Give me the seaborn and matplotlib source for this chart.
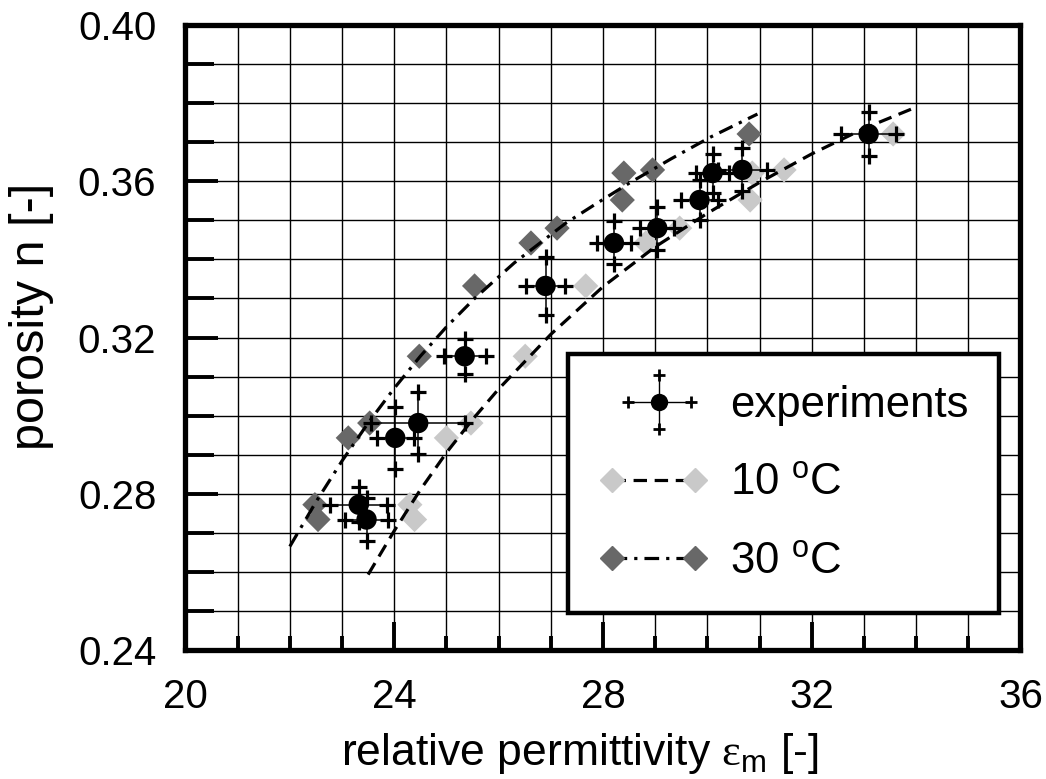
import matplotlib
matplotlib.use("Agg")
import matplotlib.pyplot as plt
from matplotlib.lines import Line2D
from matplotlib.legend_handler import HandlerBase
from matplotlib.ticker import MultipleLocator, FormatStrFormatter
import pandas as pd
import seaborn as sns

# Measured porosity of the twelve samples (shared by all series)
porosity = [0.2734, 0.2772, 0.2943, 0.2981, 0.3152, 0.3332,
            0.3442, 0.3480, 0.3552, 0.3621, 0.3629, 0.3721]

# Experiments: permittivity with uncertainty in both directions
eps_exp = [23.47, 23.32, 24.02, 24.46, 25.35, 26.90,
           28.21, 29.04, 29.85, 30.10, 30.67, 33.09]
eps_err = [0.42, 0.55, 0.35, 0.90, 0.40, 0.38,
           0.32, 0.33, 0.35, 0.32, 0.47, 0.53]
por_err = [0.0055, 0.0045, 0.0080, 0.0080, 0.0045, 0.0075,
           0.0055, 0.0055, 0.0050, 0.0050, 0.0055, 0.0057]

# Model predictions at 10 °C and 30 °C
eps_10 = [24.39, 24.30, 25.00, 25.47, 26.51, 27.67,
          28.82, 29.47, 30.82, 30.86, 31.47, 33.56]
eps_30 = [22.54, 22.48, 23.12, 23.53, 24.48, 25.54,
          26.62, 27.12, 28.37, 28.40, 28.95, 30.80]

# Fitted trend curves
fit10_eps = [23.50, 24.00, 24.50, 25.00, 25.50, 26.00, 27.00, 28.00,
             29.00, 30.00, 31.00, 32.00, 33.00, 33.95]
fit10_por = [0.2593, 0.2705, 0.2810, 0.2905, 0.2990, 0.3068, 0.3208, 0.3330,
             0.3432, 0.3518, 0.3597, 0.3670, 0.3735, 0.3787]
fit30_eps = [22.00, 22.50, 23.00, 23.50, 24.00, 24.50, 25.00, 25.54,
             26.30, 27.29, 27.84, 28.50, 29.30, 30.06, 30.96]
fit30_por = [0.2665, 0.2779, 0.2884, 0.2981, 0.3070, 0.3152, 0.3227, 0.3300,
             0.3391, 0.3493, 0.3540, 0.3595, 0.3657, 0.3713, 0.3772]

x_ticks = [20, 24, 28, 32, 36]
y_ticks = [0.24, 0.28, 0.32, 0.36, 0.40]

LIGHT = "#c9c9c9"
DARK = "#686868"

sns.set_theme(style="white")
plt.rcParams["font.family"] = ["Liberation Sans", "DejaVu Sans"]
plt.rcParams["mathtext.fontset"] = "custom"
plt.rcParams["mathtext.rm"] = "Liberation Sans"
plt.rcParams["mathtext.it"] = "Liberation Sans:italic"
plt.rcParams["mathtext.sf"] = "Liberation Serif"
plt.rcParams["text.color"] = "black"
plt.rcParams["axes.labelcolor"] = "black"
plt.rcParams["xtick.color"] = "black"
plt.rcParams["ytick.color"] = "black"

fig = plt.figure(figsize=(10.46, 7.79), dpi=100)
ax = fig.add_axes([0.1773, 0.1656, 0.7983, 0.8023])

df = pd.DataFrame({"n": porosity, "exp": eps_exp, "dx": eps_err, "dn": por_err,
                   "t10": eps_10, "t30": eps_30})

DASH10 = (0, (4.2, 2.4))
DASHDOT30 = (0, (4.6, 2.2, 1.0, 2.2))

# model points
sns.scatterplot(data=df, x="t10", y="n", marker="D", s=165, color=LIGHT,
                edgecolor="none", linewidth=0, ax=ax, zorder=3, legend=False)
sns.scatterplot(data=df, x="t30", y="n", marker="D", s=165, color=DARK,
                edgecolor="none", linewidth=0, ax=ax, zorder=3, legend=False)

# trend curves
sns.lineplot(x=fit10_eps, y=fit10_por, sort=False, estimator=None, color="black",
             linewidth=2.3, linestyle=DASH10, ax=ax, zorder=4)
sns.lineplot(x=fit30_eps, y=fit30_por, sort=False, estimator=None, color="black",
             linewidth=2.3, linestyle=DASHDOT30, ax=ax, zorder=4)

# experiments with crosses at the ends of their uncertainty bars
ax.errorbar(df["exp"], df["n"], xerr=df["dx"], yerr=df["dn"], fmt="none",
            ecolor="black", elinewidth=1.1, capsize=0, zorder=5)
ends_x = list(df["exp"] - df["dx"]) + list(df["exp"] + df["dx"]) + list(df["exp"]) * 2
ends_y = list(df["n"]) * 2 + list(df["n"] + df["dn"]) + list(df["n"] - df["dn"])
ax.plot(ends_x, ends_y, linestyle="none", marker="+", markersize=11,
        markeredgewidth=2.3, color="black", zorder=5)
sns.scatterplot(data=df, x="exp", y="n", marker="o", s=215, color="black",
                edgecolor="none", linewidth=0, ax=ax, zorder=6, legend=False)

# axes, ticks, grid
ax.set_xlim(20, 36)
ax.set_ylim(0.24, 0.40)
ax.set_xticks(x_ticks)
ax.set_yticks(y_ticks)
ax.xaxis.set_minor_locator(MultipleLocator(1))
ax.yaxis.set_minor_locator(MultipleLocator(0.01))
ax.yaxis.set_major_formatter(FormatStrFormatter("%.2f"))
ax.grid(which="both", color="black", linewidth=1.0)
ax.set_axisbelow(True)
for s in ax.spines.values():
    s.set_visible(True)
    s.set_color("black")
    s.set_linewidth(3.8)
ax.tick_params(axis="x", which="major", direction="in", length=20, width=2.8,
               labelsize=29, pad=20, bottom=True, top=False, color="black",
               labelcolor="black")
ax.tick_params(axis="x", which="minor", direction="in", length=10, width=2.8,
               bottom=True, top=False, color="black")
ax.tick_params(axis="y", which="major", direction="in", length=24, width=2.8,
               labelsize=29, pad=21, left=True, right=False, color="black",
               labelcolor="black")
ax.tick_params(axis="y", which="minor", direction="in", length=21, width=2.8,
               left=True, right=False, color="black")
ax.set_xlabel(r"relative permittivity $\mathsf{\varepsilon}_\mathrm{m}$ [-]",
              fontsize=32, color="black")
ax.set_ylabel("porosity n [-]", fontsize=35, color="black")
ax.xaxis.set_label_coords(0.472, -0.130)
ax.yaxis.set_label_coords(-0.157, 0.534)


class ExperimentKey:
    pass


class HandlerExperiment(HandlerBase):
    def create_artists(self, legend, orig_handle, xdescent, ydescent,
                       width, height, fontsize, trans):
        cx = width / 2 - xdescent + 0.12 * fontsize
        cy = height / 2 - ydescent
        dx = 0.72 * fontsize
        dy = 0.62 * fontsize
        hline = Line2D([cx - dx, cx + dx], [cy, cy], color="black", lw=1.0)
        vline = Line2D([cx, cx], [cy - dy, cy + dy], color="black", lw=1.0)
        crosses = Line2D([cx - dx, cx + dx, cx, cx], [cy, cy, cy + dy, cy - dy],
                         linestyle="none", marker="+", markersize=9,
                         markeredgewidth=2.0, color="black")
        dot = Line2D([cx], [cy], linestyle="none", marker="o", markersize=12.5,
                     color="black", markeredgewidth=0)
        arts = [hline, vline, crosses, dot]
        for a in arts:
            a.set_transform(trans)
        return arts


h10 = Line2D([], [], color="black", linewidth=2.3, linestyle=DASH10, marker="D",
             markersize=12.5, markerfacecolor=LIGHT, markeredgecolor=LIGHT)
h30 = Line2D([], [], color="black", linewidth=2.3, linestyle=DASHDOT30, marker="D",
             markersize=12.5, markerfacecolor=DARK, markeredgecolor=DARK)

leg = ax.legend([ExperimentKey(), h10, h30],
                ["experiments", "10 $^\\mathrm{o}$C", "30 $^\\mathrm{o}$C"],
                handler_map={ExperimentKey: HandlerExperiment()},
                loc="lower left", bbox_to_anchor=(0.4587, 0.0592),
                borderaxespad=0, fontsize=31.5, numpoints=2,
                handlelength=2.5, handletextpad=0.5, labelspacing=0.85,
                borderpad=0.7, fancybox=False, framealpha=1, edgecolor="black")
leg.get_frame().set_linewidth(3.2)
leg.set_zorder(10)
for t in leg.get_texts():
    t.set_color("black")

fig.savefig("out.png", dpi=100)
